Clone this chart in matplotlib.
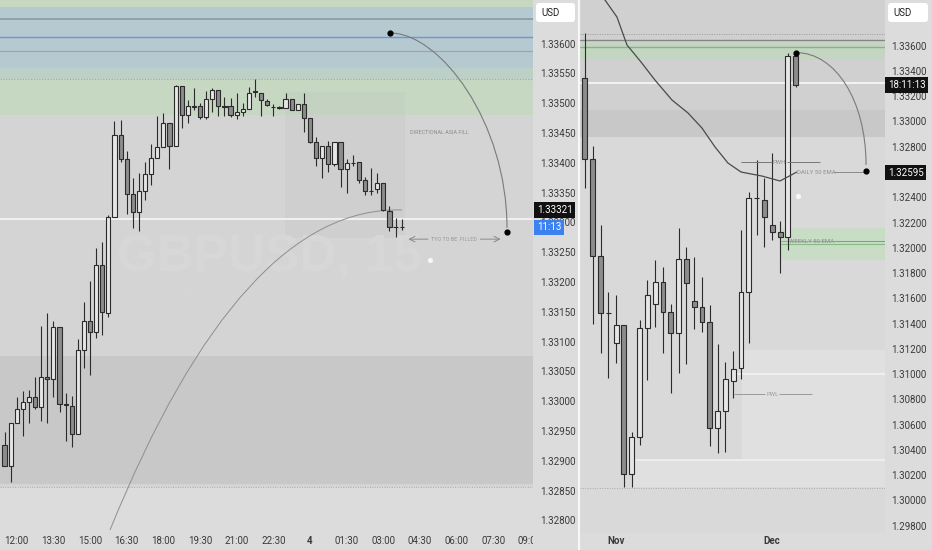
import numpy as np
import matplotlib
matplotlib.use('Agg')
import matplotlib.pyplot as plt
from matplotlib.path import Path
from matplotlib.patches import PathPatch, FancyBboxPatch
from matplotlib.lines import Line2D
from matplotlib.ticker import FormatStrFormatter
from matplotlib.transforms import Bbox, TransformedBbox, blended_transform_factory, IdentityTransform

plt.rcParams['font.family'] = ['Roboto', 'DejaVu Sans']

# ---------------- LEFT: GBPUSD 15m ----------------
left_open = [1.32927, 1.32892, 1.32964, 1.32987, 1.32999, 1.33007, 1.32990, 1.33040, 1.33038, 1.33125,
             1.32995, 1.32992, 1.32945, 1.33086, 1.33134, 1.33117, 1.33229, 1.33148, 1.33309, 1.33447,
             1.33407, 1.33348, 1.33318, 1.33352, 1.33381, 1.33408, 1.33426, 1.33467, 1.33428, 1.33529,
             1.33480, 1.33496, 1.33495, 1.33477, 1.33507, 1.33522, 1.33495, 1.33495, 1.33480, 1.33486,
             1.33490, 1.33520, 1.33518, 1.33504, 1.33494, 1.33493, 1.33492, 1.33507, 1.33489, 1.33498,
             1.33475, 1.33435, 1.33408, 1.33429, 1.33398, 1.33435, 1.33390, 1.33400, 1.33401, 1.33371,
             1.33353, 1.33356, 1.33367, 1.33320, 1.33293, 1.33293]
left_high = [1.32949, 1.32964, 1.33007, 1.33018, 1.33019, 1.33041, 1.33127, 1.33148, 1.33134, 1.33125,
             1.33014, 1.33009, 1.33105, 1.33167, 1.33202, 1.33257, 1.33268, 1.33312, 1.33471, 1.33472,
             1.33420, 1.33375, 1.33383, 1.33401, 1.33432, 1.33478, 1.33484, 1.33467, 1.33531, 1.33529,
             1.33506, 1.33526, 1.33500, 1.33521, 1.33526, 1.33522, 1.33511, 1.33509, 1.33517, 1.33500,
             1.33527, 1.33540, 1.33518, 1.33507, 1.33499, 1.33495, 1.33517, 1.33507, 1.33498, 1.33517,
             1.33475, 1.33444, 1.33429, 1.33436, 1.33435, 1.33435, 1.33406, 1.33413, 1.33401, 1.33377,
             1.33391, 1.33383, 1.33367, 1.33327, 1.33307, 1.33305]
left_low = [1.32891, 1.32865, 1.32964, 1.32942, 1.32964, 1.32987, 1.32967, 1.32964, 1.33007, 1.32982,
            1.32934, 1.32923, 1.32945, 1.33056, 1.33044, 1.33106, 1.33111, 1.33142, 1.33309, 1.33401,
            1.33315, 1.33291, 1.33286, 1.33338, 1.33363, 1.33408, 1.33426, 1.33389, 1.33428, 1.33458,
            1.33467, 1.33489, 1.33474, 1.33474, 1.33486, 1.33478, 1.33478, 1.33477, 1.33474, 1.33478,
            1.33490, 1.33511, 1.33479, 1.33495, 1.33478, 1.33491, 1.33492, 1.33489, 1.33489, 1.33451,
            1.33433, 1.33395, 1.33374, 1.33384, 1.33395, 1.33359, 1.33349, 1.33394, 1.33367, 1.33346,
            1.33346, 1.33350, 1.33320, 1.33286, 1.33275, 1.33287]
left_close = [1.32892, 1.32964, 1.32987, 1.32999, 1.33007, 1.32990, 1.33041, 1.33038, 1.33125, 1.32995,
              1.32993, 1.32945, 1.33086, 1.33134, 1.33117, 1.33229, 1.33149, 1.33309, 1.33447, 1.33407,
              1.33348, 1.33318, 1.33352, 1.33381, 1.33408, 1.33426, 1.33467, 1.33428, 1.33529, 1.33480,
              1.33495, 1.33494, 1.33477, 1.33507, 1.33522, 1.33495, 1.33494, 1.33480, 1.33486, 1.33490,
              1.33518, 1.33519, 1.33506, 1.33497, 1.33493, 1.33492, 1.33507, 1.33489, 1.33498, 1.33475,
              1.33435, 1.33408, 1.33429, 1.33398, 1.33435, 1.33390, 1.33400, 1.33399, 1.33371, 1.33352,
              1.33352, 1.33367, 1.33321, 1.33293, 1.33292, 1.33292]
left_time_pos = [2, 8, 14, 20, 26, 32, 38, 44, 50, 56, 62, 68, 74, 80, 86]
left_time_labels = ['12:00', '13:30', '15:00', '16:30', '18:00', '19:30', '21:00', '22:30', '4',
                    '01:30', '03:00', '04:30', '06:00', '07:30', '09:00']
left_price_ticks = [1.32800, 1.32850, 1.32900, 1.32950, 1.33000, 1.33050, 1.33100, 1.33150, 1.33200,
                    1.33250, 1.33300, 1.33350, 1.33400, 1.33450, 1.33500, 1.33550, 1.33600]
left_last_price = 1.33321
left_countdown = '11:13'
# drawn annotations (slot, price)
left_arc_x = [63.09, 71.27, 82.24, 82.24]
left_arc_y = [1.33618, 1.33618, 1.33469, 1.33291]
left_dots_x = [63.09, 82.24]
left_dots_y = [1.33618, 1.33284]
left_curve_x = [17.27, 38.8, 65.06]
left_curve_y = [1.32784, 1.33329, 1.33321]

# ---------------- RIGHT: GBPUSD daily ----------------
right_open = [1.33347, 1.32701, 1.31937, 1.31487, 1.31244, 1.31389, 1.30207, 1.30500, 1.31363, 1.31553,
              1.31732, 1.31489, 1.31323, 1.31909, 1.31581, 1.31529, 1.31410, 1.30576, 1.30710, 1.30948,
              1.31046, 1.31652, 1.32393, 1.32378, 1.32181, 1.32127, 1.32088, 1.33518]
right_high = [1.33698, 1.32806, 1.32181, 1.31652, 1.31626, 1.31389, 1.30544, 1.31428, 1.31745, 1.31903,
              1.31846, 1.31555, 1.32154, 1.32009, 1.31930, 1.31771, 1.31547, 1.31238, 1.31098, 1.31185,
              1.32141, 1.32444, 1.32695, 1.32550, 1.32753, 1.32215, 1.33545, 1.33540]
right_low = [1.32477, 1.31398, 1.31165, 1.30972, 1.31086, 1.30109, 1.30109, 1.30439, 1.30953, 1.31375,
             1.31165, 1.30848, 1.31006, 1.31078, 1.31355, 1.31336, 1.30431, 1.30378, 1.30386, 1.30809,
             1.30959, 1.31244, 1.32101, 1.32009, 1.32062, 1.31798, 1.31983, 1.33275]
right_close = [1.32701, 1.31937, 1.31481, 1.31485, 1.31389, 1.30207, 1.30500, 1.31363, 1.31626, 1.31732,
               1.31489, 1.31323, 1.31909, 1.31725, 1.31534, 1.31410, 1.30576, 1.30710, 1.30959, 1.31038,
               1.31648, 1.32392, 1.32391, 1.32242, 1.32127, 1.32088, 1.33518, 1.33289]
right_month_pos = [4, 24]
right_month_labels = ['Nov', 'Dec']
right_price_ticks = [1.29800, 1.30000, 1.30200, 1.30400, 1.30600, 1.30800, 1.31000, 1.31200, 1.31400,
                     1.31600, 1.31800, 1.32000, 1.32200, 1.32400, 1.32800, 1.33000, 1.33200,
                     1.33400, 1.33600]
right_countdown = '18:11:13'
daily_ema_label = 1.32595
daily_ema_x = [2.56, 4.10, 5.38, 7.18, 8.97, 11.15, 13.21, 15.0, 16.67, 18.33, 20.0, 22.69, 25.0, 27.1]
daily_ema_y = [1.33962, 1.33827, 1.33606, 1.33471, 1.33328, 1.33170, 1.33067, 1.32948, 1.32798,
               1.32671, 1.32600, 1.32568, 1.32529, 1.32598]
right_arc_x = [27.09, 32.05, 36.03, 36.03]
right_arc_y = [1.33545, 1.33545, 1.33170, 1.32656]
right_dots_x = [27.09, 36.03]
right_dots_y = [1.33545, 1.32605]
pwh_price = 1.32677
pwl_price = 1.30840
weekly_ema = [1.32054, 1.32028]

# ---------------- figure ----------------
W, H = 932, 550
fig = plt.figure(figsize=(W / 100, H / 100), dpi=100, facecolor='#dcdcdc')
ax1 = fig.add_axes([0, 17 / H, 533 / W, 533 / H])
ax2 = fig.add_axes([580 / W, 17 / H, 305 / W, 533 / H])

TICK_C = '#3a3a3a'
EDGE = '#2b2b2b'


def candles(ax, o, h, l, c, width, lw):
    o, h, l, c = map(np.asarray, (o, h, l, c))
    x = np.arange(len(o))
    ax.vlines(x, l, h, color=EDGE, lw=lw, zorder=3)
    up = c >= o
    bottom = np.minimum(o, c)
    height = np.maximum(np.abs(c - o), 1e-6)
    ax.bar(x, height, width, bottom=bottom, color=np.where(up, '#e6e6e6', '#8c8c8c'),
           edgecolor=EDGE, linewidth=lw, zorder=4)


def bezier(ax, xs, ys, color, lw, z=5):
    verts = list(zip(xs, ys))
    codes = [Path.MOVETO] + [Path.CURVE4 if len(xs) == 4 else Path.CURVE3] * (len(xs) - 1)
    ax.add_patch(PathPatch(Path(verts, codes), fill=False, edgecolor=color, lw=lw, zorder=z))


for ax in (ax1, ax2):
    for s in ax.spines.values():
        s.set_visible(False)

# ---- left backgrounds ----
ax1.set_facecolor('#d4d4d4')
ax1.set_xlim(-0.74, 86.5)
ax1.set_ylim(1.327789, 1.336733)
ax1.axhspan(1.33480, 1.3370, color='#c6d7c2', zorder=0, lw=0)
ax1.axhspan(1.33559, 1.33662, color='#b5cad0', zorder=0, lw=0)
ax1.axhspan(1.33540, 1.33559, color='#bdd0c8', zorder=0, lw=0)
ax1.fill_between([45.9, 65.5], 1.33274, 1.33519, color='#bdbdbd', alpha=0.18, zorder=0.2, lw=0)
ax1.axhspan(1.32861, 1.33076, color='#c8c8c8', zorder=0, lw=0)
ax1.axhspan(1.3270, 1.32856, color='#dcdcdc', zorder=0, lw=0)
ax1.axhline(1.33642, color='#8a9a9c', lw=1.2, zorder=1.5)
ax1.axhline(1.33611, color='#6f94d6', lw=1.0, zorder=1.5)
ax1.axhline(1.33588, color='#98a8a8', lw=0.9, zorder=1.5)
ax1.axhline(1.33541, color='#9aab98', lw=0.8, ls=(0, (1, 1.5)), zorder=1.5)
ax1.axhline(1.32856, color='#a9a9a9', lw=0.7, ls=(0, (1, 1.5)), zorder=1.5)
ax1.axhline(1.33305, color='#f4f4f4', lw=1.3, zorder=1.5)

# watermark (very faint)
ax1.text(43.3, 1.33242, 'GBPUSD, 15', fontsize=37, fontweight='bold', color='#d7d7d7',
         ha='center', va='center', zorder=0.8, family=['Liberation Sans', 'DejaVu Sans'])
ax1.text(43.3, 1.33175, 'British Pound / U.S. Dollar', fontsize=11, color='#d6d6d6',
         ha='center', va='center', zorder=0.8)

candles(ax1, left_open, left_high, left_low, left_close, 0.68, 0.8)

bezier(ax1, left_curve_x, left_curve_y, '#8e8e8e', 0.7, z=2)
bezier(ax1, left_arc_x, left_arc_y, '#7a7a7a', 0.8)
ax1.scatter(left_dots_x, left_dots_y, s=12, color='black', zorder=6)
ax1.scatter([69.6], [1.33237], s=14, color='white', alpha=0.8, zorder=6, lw=0)

ax1.text(66.4, 1.33451, 'DIRECTIONAL ASIA FILL', fontsize=3.9, color='#8c8c8c', va='center', zorder=5)
ax1.text(73.6, 1.33272, 'TYO TO BE  FILLED', fontsize=3.9, color='#9a9a9a', ha='center', va='center', zorder=5)
ax1.annotate('', xy=(66.1, 1.33272), xytext=(69.3, 1.33272),
             arrowprops=dict(arrowstyle='->', color='#8a8a8a', lw=0.7, shrinkA=0, shrinkB=0))
ax1.annotate('', xy=(81.2, 1.33272), xytext=(77.9, 1.33272),
             arrowprops=dict(arrowstyle='->', color='#8a8a8a', lw=0.7, shrinkA=0, shrinkB=0))

# left ticks
ax1.yaxis.tick_right()
ax1.set_yticks(left_price_ticks)
ax1.yaxis.set_major_formatter(FormatStrFormatter('%.5f'))
ax1.tick_params(axis='y', length=0, pad=5, labelsize=7, labelcolor=TICK_C)
ax1.set_xticks(left_time_pos, left_time_labels)
ax1.tick_params(axis='x', length=0, pad=2.5, labelsize=7, labelcolor=TICK_C)
xl = ax1.get_xticklabels()
xl[8].set_fontweight('bold')
xl[-1].set_clip_box(TransformedBbox(Bbox([[0, 0], [533 / W, 1]]), fig.transFigure))
xl[-1].set_clip_on(True)

tr1 = blended_transform_factory(ax1.transAxes, ax1.transData)
ax1.text(1 + 4 / 533, left_last_price, '%.5f' % left_last_price, transform=tr1, fontsize=7, color='white',
         va='center', ha='left', zorder=10, clip_on=False,
         bbox=dict(boxstyle='square,pad=0.28', fc='#111111', ec='none'))
ax1.text(1 + 4 / 533, left_close[-1], left_countdown, transform=tr1, fontsize=7, color='white',
         va='center', ha='left', zorder=10, clip_on=False,
         bbox=dict(boxstyle='square,pad=0.28', fc='#3b82f0', ec='none'))

# ---- right backgrounds ----
ax2.set_facecolor('#d9d9d9')
ax2.set_xlim(-0.64, 38.46)
ax2.set_ylim(1.29742, 1.339618)
ax2.axhspan(1.32877, 1.3400, color='#d0d0d0', zorder=0, lw=0)
ax2.axhspan(1.32877, 1.33091, color='#c8c8c8', zorder=0, lw=0)
ax2.axhspan(1.33487, 1.33621, color='#c4d6c2', zorder=0, lw=0)
ax2.fill_between([20.1, 38.5], 1.30122, 1.31191, color='#e0e0e0', zorder=0, lw=0)
ax2.fill_between([6.15, 38.5], 1.30106, 1.30320, color='#e0e0e0', zorder=0, lw=0)
ax2.fill_between([25.1, 38.5], 1.31903, 1.32157, color='#c9dcc6', zorder=0, lw=0)
ax2.axhline(1.33695, color='#9a9a9a', lw=0.7, ls=(0, (1, 1.5)), zorder=1.5)
ax2.axhline(1.33643, color='#7d8a80', lw=1.0, zorder=1.5)
ax2.axhline(1.33592, color='#7cbb7c', lw=1.0, zorder=1.5)
ax2.axhline(1.33305, color='#f6f6f6', lw=1.3, zorder=1.5)
ax2.hlines(1.31001, 19.2, 38.5, color='#f4f4f4', lw=1.1, zorder=1.5)
ax2.hlines(1.30318, 6.15, 38.5, color='#f2f2f2', lw=1.1, zorder=1.5)
ax2.axhline(1.30101, color='#aaaaaa', lw=0.7, ls=(0, (1, 1.5)), zorder=1.5)
ax2.hlines(weekly_ema, 25.1, 38.5, color='#86bb86', lw=0.8, zorder=1.5)

ax2.plot(daily_ema_x, daily_ema_y, color='#4a4a4a', lw=0.9, zorder=5)

candles(ax2, right_open, right_high, right_low, right_close, 0.64, 0.8)

# labels in right panel
LBL = '#8e8e8e'
ax2.hlines([pwh_price, pwh_price], [20.0, 25.9], [24.0, 30.1], color='#777777', lw=0.7, zorder=5)
ax2.text(24.95, pwh_price, 'PWH', fontsize=4.3, color=LBL, ha='center', va='center', zorder=5)
ax2.hlines([pwl_price, pwl_price], [19.14, 24.92], [23.08, 29.06], color='#9a9a9a', lw=0.7, zorder=5)
ax2.text(24.0, pwl_price, 'PWL', fontsize=4.3, color='#a0a0a0', ha='center', va='center', zorder=5)
ax2.text(29.6, 1.32598, 'DAILY 50 EMA', fontsize=4.3, color=LBL, ha='center', va='center', zorder=5)
ax2.hlines(1.32598, 31.96, 36.03, color='#8a8a8a', lw=0.7, zorder=5)
ax2.text(29.0, 1.32050, 'WEEKLY 50 EMA', fontsize=4.3, color=LBL, ha='center', va='center', zorder=5)
ax2.hlines(1.32054, 31.8, 38.5, color='#8a9a8a', lw=0.7, zorder=5)

bezier(ax2, right_arc_x, right_arc_y, '#7a7a7a', 0.8)
ax2.scatter(right_dots_x, right_dots_y, s=12, color='black', zorder=6)
ax2.scatter([27.27], [1.32410], s=14, color='white', alpha=0.8, zorder=6, lw=0)

ax2.yaxis.tick_right()
ax2.set_yticks(right_price_ticks)
ax2.yaxis.set_major_formatter(FormatStrFormatter('%.5f'))
ax2.tick_params(axis='y', length=0, pad=4.5, labelsize=7, labelcolor=TICK_C)
ax2.set_xticks(right_month_pos, right_month_labels)
ax2.tick_params(axis='x', length=0, pad=2.5, labelsize=7, labelcolor=TICK_C)
for t in ax2.get_xticklabels():
    t.set_fontweight('bold')

tr2 = blended_transform_factory(ax2.transAxes, ax2.transData)
ax2.text(1 + 3 / 305, right_close[-1], right_countdown, transform=tr2, fontsize=7, color='white',
         va='center', ha='left', zorder=10, clip_on=False,
         bbox=dict(boxstyle='square,pad=0.28', fc='#111111', ec='none'))
ax2.text(1 + 3 / 305, daily_ema_label, '%.5f' % daily_ema_label, transform=tr2, fontsize=7, color='white',
         va='center', ha='left', zorder=10, clip_on=False,
         bbox=dict(boxstyle='square,pad=0.28', fc='#111111', ec='none'))

# separators and USD buttons
fig.add_artist(Line2D([578.5 / W] * 2, [0, 1], transform=fig.transFigure, color='#f7f7f7', lw=1.6))
for bx, bw in ((536, 39), (888, 40)):
    fig.add_artist(FancyBboxPatch((bx, H - 22), bw, 19, boxstyle='round,pad=0,rounding_size=3',
                                  transform=IdentityTransform(), fc='white', ec='none', zorder=5))
    fig.text((bx + 5.5) / W, 1 - 12.5 / H, 'USD', fontsize=7, color='#222222', va='center', zorder=6)

fig.savefig('out.png', dpi=100, facecolor=fig.get_facecolor())
